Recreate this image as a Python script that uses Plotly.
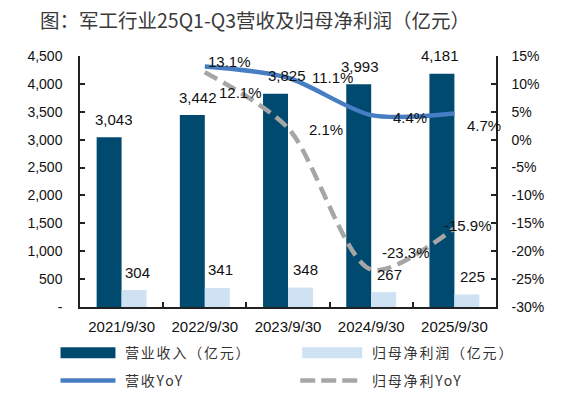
import plotly.graph_objects as go

# ---- data ----
categories = ["2021/9/30", "2022/9/30", "2023/9/30", "2024/9/30", "2025/9/30"]
revenue = [3043, 3442, 3825, 3993, 4181]          # 营业收入（亿元）
net_profit = [304, 341, 348, 267, 225]            # 归母净利润（亿元）
yoy_cats = ["2022/9/30", "2023/9/30", "2024/9/30", "2025/9/30"]
revenue_yoy = [13.1, 11.1, 4.4, 4.7]              # 营收YoY (%)
profit_yoy = [12.1, 2.1, -23.3, -15.9]            # 归母净利YoY (%)

left_ticks = [0, 500, 1000, 1500, 2000, 2500, 3000, 3500, 4000, 4500]
left_ticktext = ["-", "500", "1,000", "1,500", "2,000", "2,500", "3,000", "3,500", "4,000", "4,500"]
right_ticks = [-30, -25, -20, -15, -10, -5, 0, 5, 10, 15]
right_ticktext = ["-30%", "-25%", "-20%", "-15%", "-10%", "-5%", "0%", "5%", "10%", "15%"]

# ---- style ----
DARK = "#004a70"
LIGHT = "#cfe2f3"
BLUE = "#467dc3"
GRAY = "#a6a6a6"
NUMFONT = "Liberation Sans"
CJK = "Noto Sans CJK SC"

OFF = 8                     # page body margin
W, H = 565 - OFF, 395 - OFF
# plot area in screenshot pixels: x 79.5..496, y 56..306.7
L = 79.5 - OFF
T = 56 - OFF
R = W - (496 - OFF)
B = H - (306.7 - OFF)
PW, PH = W - L - R, H - T - B


def px(x):
    return (x - OFF - L) / PW


def py(y):
    return (H - B - (y - OFF)) / PH


fig = go.Figure()
fig.add_trace(go.Bar(x=categories, y=revenue, name="营业收入（亿元）",
                     marker=dict(color=DARK, line=dict(width=0)), showlegend=False))
fig.add_trace(go.Bar(x=categories, y=net_profit, name="归母净利润（亿元）",
                     marker=dict(color=LIGHT, line=dict(width=0)), showlegend=False))
fig.add_trace(go.Scatter(x=yoy_cats, y=revenue_yoy, name="营收YoY", yaxis="y2",
                         mode="lines", line=dict(color=BLUE, width=4.5, shape="spline", smoothing=0.8),
                         showlegend=False))
fig.add_trace(go.Scatter(x=yoy_cats, y=profit_yoy, name="归母净利YoY", yaxis="y2",
                         mode="lines", line=dict(color=GRAY, width=4.5, dash="14px,7px",
                                                 shape="spline", smoothing=0.8),
                         showlegend=False))

annotations = []
lab_font = dict(family=NUMFONT, size=15, color="#111111")
# bar value labels
rev_dx = [-8, -7, -1, -11, -14]
prof_dx = [16, 16, 17, 18, 18]
for c, v, dx in zip(categories, revenue, rev_dx):
    annotations.append(dict(x=c, y=v, xref="x", yref="y", text=f"{v:,}", showarrow=False,
                            xshift=dx, yshift=18, font=lab_font))
for c, v, dx in zip(categories, net_profit, prof_dx):
    annotations.append(dict(x=c, y=v, xref="x", yref="y", text=f"{v:,}", showarrow=False,
                            xshift=dx, yshift=18, font=lab_font))
# yoy labels
rev_off = [(25, 5), (44, 0), (39, -2), (30, -12)]
prof_off = [(36, -20), (38, -2), (35, 17), (14, 3)]
for c, v, (dx, dy) in zip(yoy_cats, revenue_yoy, rev_off):
    annotations.append(dict(x=c, y=v, xref="x", yref="y2", text=f"{v:.1f}%", showarrow=False,
                            xshift=dx, yshift=dy, font=lab_font))
for c, v, (dx, dy) in zip(yoy_cats, profit_yoy, prof_off):
    annotations.append(dict(x=c, y=v, xref="x", yref="y2", text=f"{v:.1f}%", showarrow=False,
                            xshift=dx, yshift=dy, font=lab_font))

# ---- manual legend ----
leg_font = dict(family=CJK, size=14, color="#333333")
shapes = [
    dict(type="rect", xref="paper", yref="paper", x0=px(60), x1=px(115), y0=py(358), y1=py(347),
         fillcolor=DARK, line=dict(width=0)),
    dict(type="rect", xref="paper", yref="paper", x0=px(302), x1=px(362), y0=py(358), y1=py(347),
         fillcolor=LIGHT, line=dict(width=0)),
    dict(type="line", xref="paper", yref="paper", x0=px(60), x1=px(115), y0=py(380), y1=py(380),
         line=dict(color=BLUE, width=4.5)),
    dict(type="line", xref="paper", yref="paper", x0=px(300), x1=px(358), y0=py(380), y1=py(380),
         line=dict(color=GRAY, width=4.5, dash="15px,6px")),
]
legend_items = [("营业收入（亿元）", 123, 352), ("归母净利润（亿元）", 370, 352),
                ("营收YoY", 123, 380), ("归母净利YoY", 370, 380)]
for text, x, y in legend_items:
    annotations.append(dict(x=px(x), y=py(y), xref="paper", yref="paper",
                            text=f'<span style="letter-spacing:1.8px">{text}</span>',
                            showarrow=False, xanchor="left", yanchor="middle", font=leg_font))

axis_common = dict(showline=True, linecolor="#222222", linewidth=1.5, ticks="inside",
                   tickcolor="#222222", ticklen=5, tickwidth=1.5, showgrid=False, zeroline=False,
                   tickfont=dict(family=NUMFONT, size=14, color="#111111"))

fig.update_layout(
    width=W, height=H,
    margin=dict(l=L, r=R, t=T, b=B, pad=0, autoexpand=False),
    paper_bgcolor="white", plot_bgcolor="white",
    barmode="group", bargap=0.4, bargroupgap=0,
    title=dict(text="图：军工行业25Q1-Q3营收及归母净利润（亿元）", x=(40 - OFF) / W, xanchor="left",
               xref="container", y=1 - (21 - OFF) / H, yanchor="middle", yref="container",
               font=dict(family=CJK, size=19.5, color="#3a3a3a")),
    xaxis=dict(type="category", tickson="boundaries", range=[-0.5, 4.5], ticklabelstandoff=5,
               **axis_common),
    yaxis=dict(range=[0, 4500], tickvals=left_ticks, ticktext=left_ticktext,
               ticklabelstandoff=13, **axis_common),
    yaxis2=dict(range=[-30, 15], tickvals=right_ticks, ticktext=right_ticktext, overlaying="y",
                side="right", ticklabelstandoff=11, **axis_common),
    annotations=annotations,
    shapes=shapes,
    showlegend=False,
)
fig.update_xaxes(tickfont=dict(family=NUMFONT, size=15, color="#111111"))

fig.write_html("out.html")
